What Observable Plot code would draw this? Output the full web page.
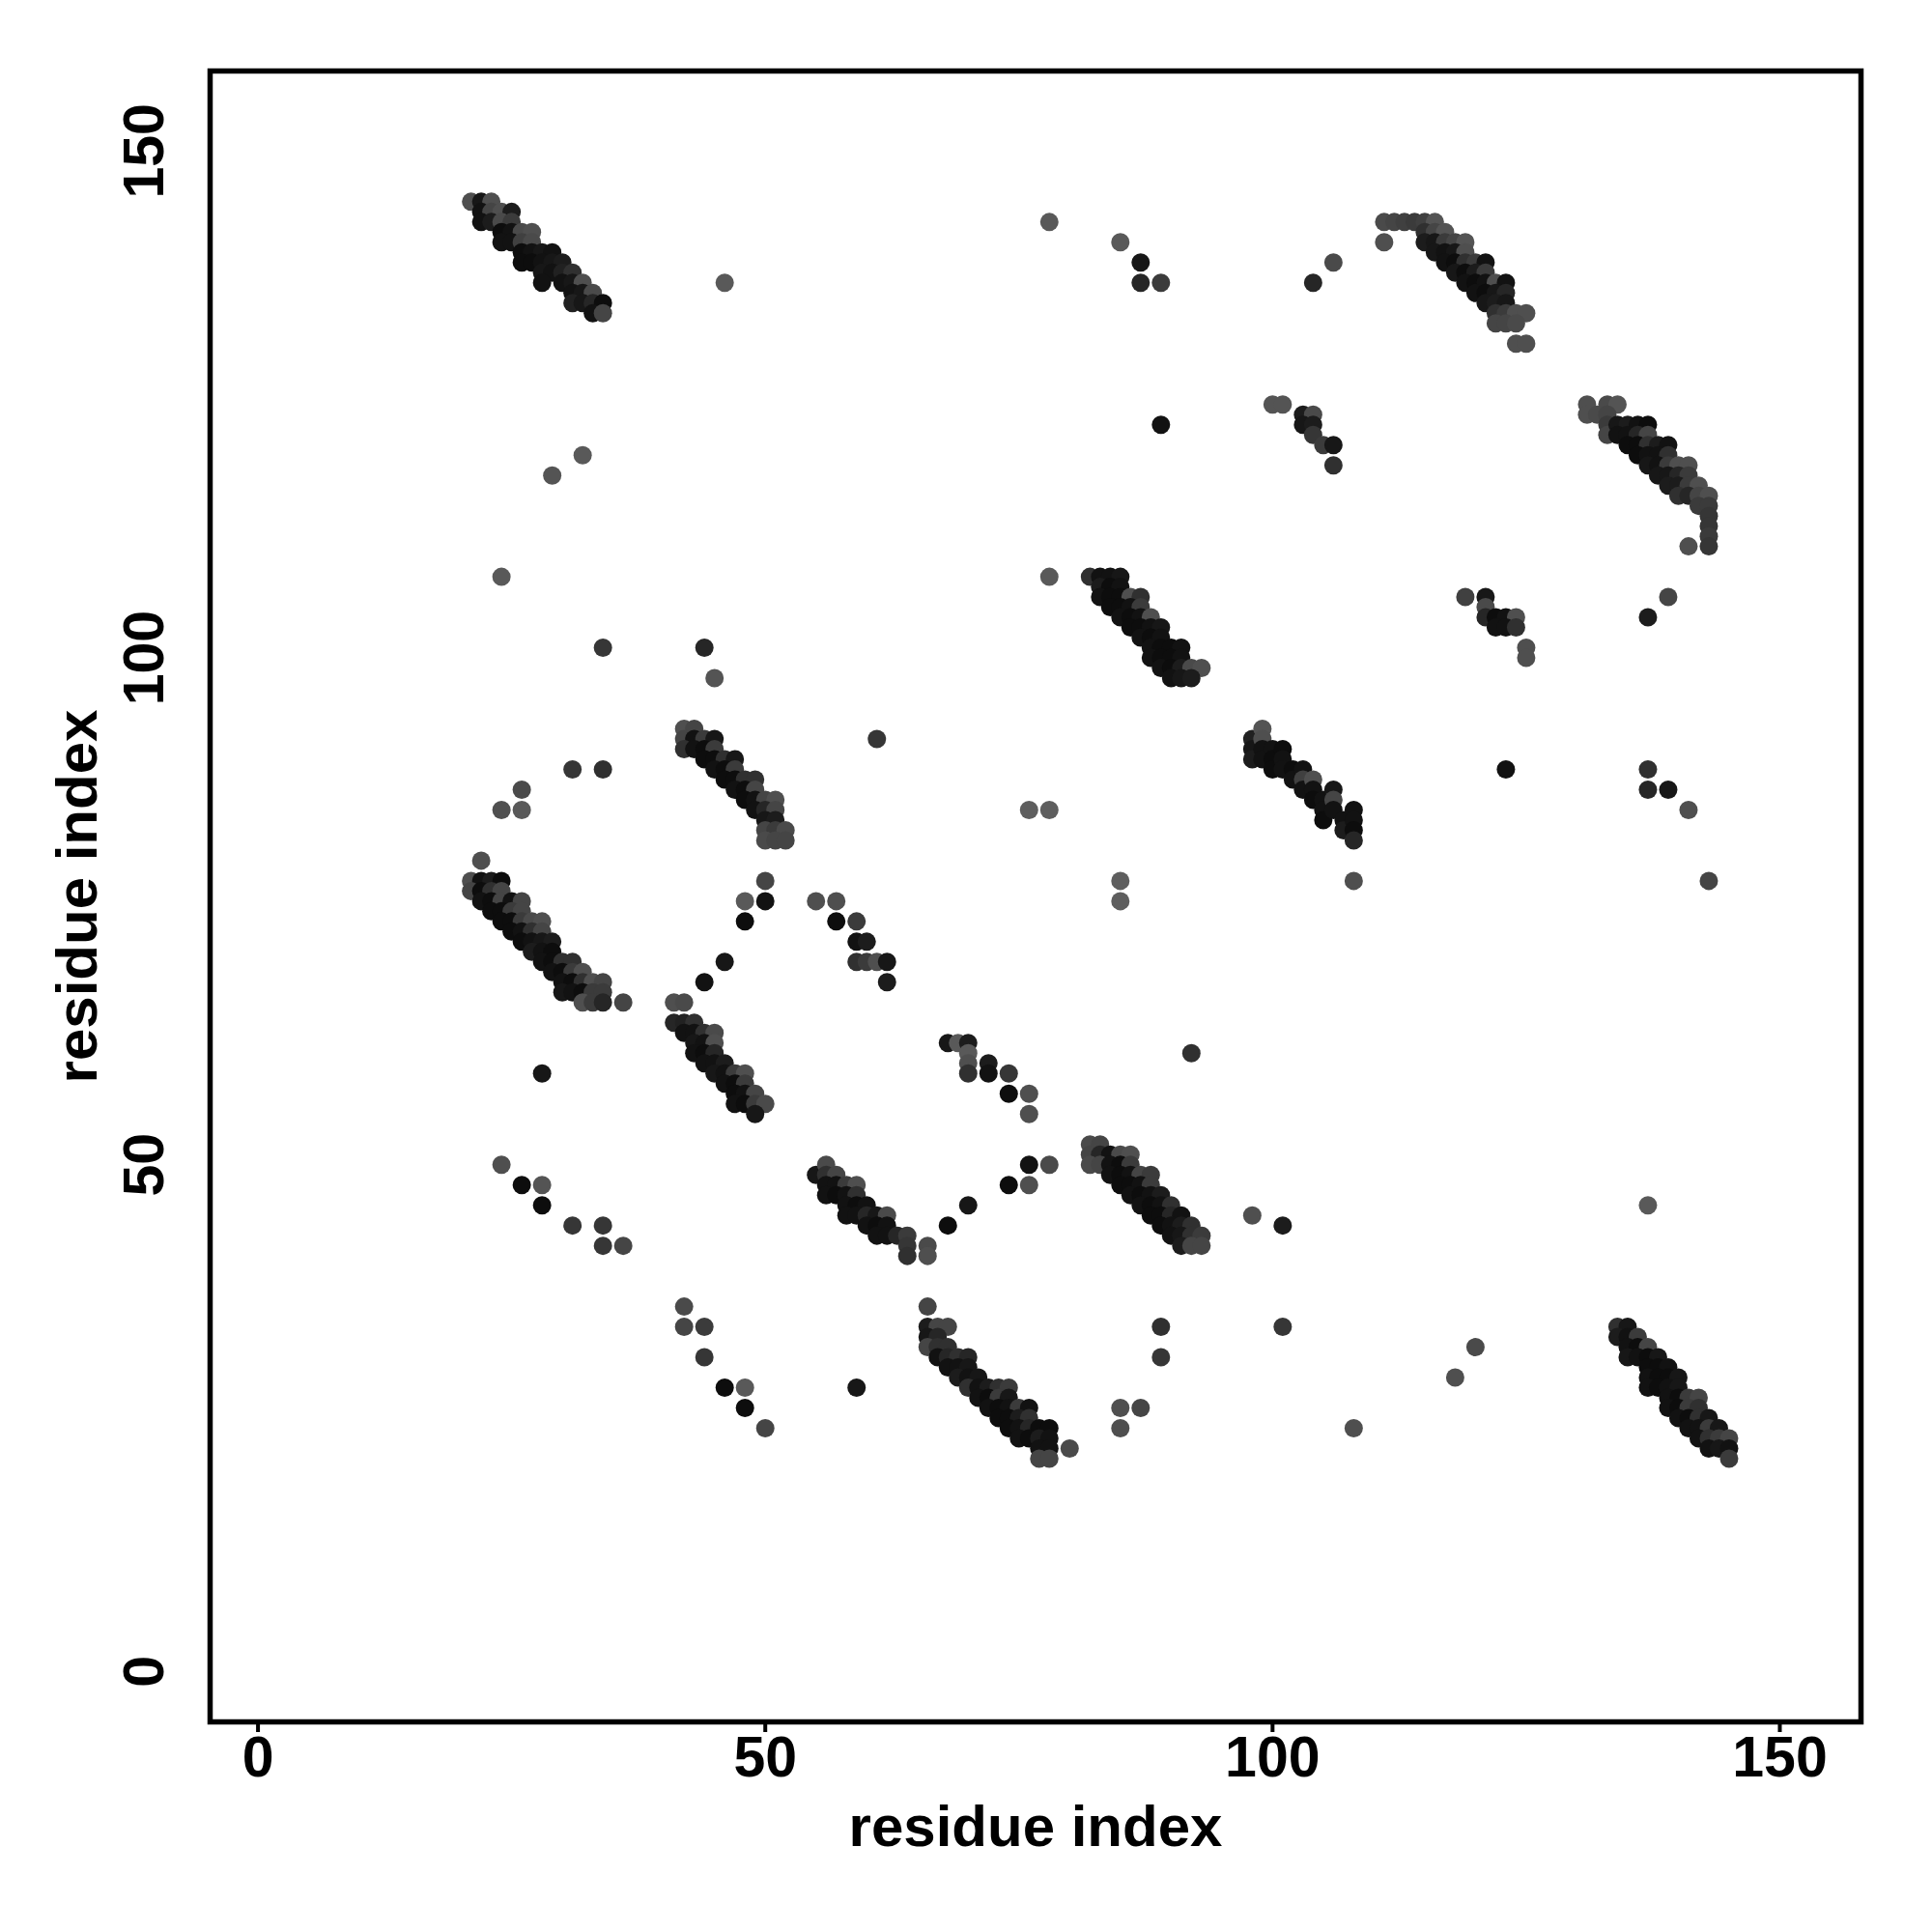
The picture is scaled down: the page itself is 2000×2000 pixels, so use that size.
<!DOCTYPE html>
<html><head><meta charset="utf-8">
<script src="https://cdn.jsdelivr.net/npm/d3@7"></script>
<script src="https://cdn.jsdelivr.net/npm/@observablehq/plot@0.6"></script>
<style>body{margin:0;background:#fff}</style>
</head><body><div id="chart"></div>
<script>
const xTicks = [0, 50, 100, 150];
const yTicks = [0, 50, 100, 150];
const axisTitle = "residue index";

// [residue i, residue j, contact strength]
const bandA = [[21,145,0.3],[22,145,0.85],[23,145,0.3],
[22,144,0.9],[23,144,0.4],[24,144,0.3],[25,144,0.8],
[22,143,0.9],[23,143,0.8],[24,143,0.35],[25,143,0.5],
[24,142,0.95],[25,142,0.9],[26,142,0.35],[27,142,0.3],
[24,141,0.9],[25,141,0.9],[26,141,0.45],[27,141,0.35],
[26,140,0.95],[27,140,0.9],[28,140,0.85],[29,140,0.9],
[26,139,0.95],[27,139,0.95],[28,139,0.9],[29,139,0.85],[30,139,0.8],
[28,138,0.85],[29,138,0.9],[30,138,0.75],[31,138,0.6],
[28,137,0.9],[30,137,0.9],[31,137,0.85],[32,137,0.3],
[31,136,0.9],[32,136,0.85],[33,136,0.35],
[31,135,0.75],[32,135,0.85],[33,135,0.7],[34,135,0.95],
[33,134,0.9],[34,134,0.4]];

const bandB = [[111,143,0.35],[112,143,0.4],[113,143,0.45],[114,143,0.5],[115,143,0.45],[116,143,0.25],
[111,141,0.3],
[115,142,0.6],[116,142,0.4],[117,142,0.25],
[115,141,0.8],[116,141,0.85],[117,141,0.5],[118,141,0.4],[119,141,0.25],
[116,140,0.85],[117,140,0.9],[118,140,0.85],[119,140,0.3],
[117,139,0.9],[118,139,0.95],[119,139,0.6],[120,139,0.5],[121,139,0.9],
[118,138,0.85],[119,138,0.95],[120,138,0.8],[121,138,0.5],
[119,137,0.9],[120,137,0.95],[121,137,0.9],[122,137,0.3],[123,137,0.9],
[120,136,0.9],[121,136,0.95],[122,136,0.85],[123,136,0.7],
[121,135,0.85],[122,135,0.8],[123,135,0.85],
[122,134,0.6],[123,134,0.5],[124,134,0.3],[125,134,0.3],
[122,133,0.4],[123,133,0.4],[124,133,0.35],
[124,131,0.3],[125,131,0.3]];

const bandD = [[131,125,0.3],[131,124,0.3],[133,125,0.35],[134,125,0.25],
[132,124,0.35],[133,124,0.4],[133,123,0.5],[133,122,0.4],
[134,123,0.85],[135,123,0.8],[136,123,0.9],[137,123,0.95],
[134,122,0.9],[135,122,0.9],[136,122,0.7],[137,122,0.4],
[135,121,0.95],[136,121,0.95],[137,121,0.6],[138,121,0.8],[139,121,0.9],
[136,120,0.95],[137,120,0.9],[138,120,0.9],[139,120,0.6],
[137,119,0.85],[138,119,0.9],[139,119,0.5],[140,119,0.3],[141,119,0.3],
[138,118,0.85],[139,118,0.85],[140,118,0.7],[141,118,0.5],
[139,117,0.8],[140,117,0.8],[141,117,0.5],[142,117,0.3],
[140,116,0.6],[141,116,0.7],[142,116,0.4],[143,116,0.3],
[142,115,0.5],[143,115,0.5],[143,114,0.55],[143,113,0.55],[143,112,0.5],[143,111,0.55],
[141,111,0.3]];

const bandE = [[82,108,0.6],[83,108,0.9],[84,108,0.9],[85,108,0.85],
[83,107,0.8],[84,107,0.95],[85,107,0.9],
[83,106,0.9],[84,106,0.95],[85,106,0.95],[86,106,0.3],[87,106,0.6],
[84,105,0.95],[85,105,0.95],[86,105,0.9],[87,105,0.5],
[85,104,0.9],[86,104,0.95],[87,104,0.9],[88,104,0.3],
[86,103,0.95],[87,103,0.95],[88,103,0.9],[89,103,0.85],
[87,102,0.9],[88,102,0.95],[89,102,0.9],
[88,101,0.9],[89,101,0.95],[90,101,0.95],[91,101,0.9],
[88,100,0.9],[89,100,0.95],[90,100,0.95],[91,100,0.9],
[89,99,0.9],[90,99,0.95],[91,99,0.8],[92,99,0.35],[93,99,0.3],
[90,98,0.9],[91,98,0.85],[92,98,0.8]];

const bandF = [[98,92,0.75],[98,91,0.85],[98,90,0.8],
[99,93,0.25],[99,92,0.3],[99,91,0.9],[99,90,0.9],
[100,91,0.9],[100,90,0.95],[100,89,0.95],
[101,91,0.95],[101,90,0.9],[101,89,0.9],
[102,89,0.95],[102,88,0.9],
[103,89,0.9],[103,88,0.45],[103,87,0.9],
[104,88,0.3],[104,87,0.9],[104,86,0.95],
[105,86,0.9],[105,85,0.9],[105,84,0.95],
[106,87,0.85],[106,86,0.4],[106,85,0.9],
[107,84,0.9],[107,83,0.8],
[108,85,0.9],[108,84,0.9],[108,83,0.95],[108,82,0.7]];

const bandG = [[42,93,0.3],[43,93,0.4],[42,92,0.4],[43,92,0.9],[42,91,0.6],[44,92,0.5],[45,92,0.85],
[43,91,0.9],[44,91,0.95],[45,91,0.5],[44,90,0.95],[45,90,0.95],[46,90,0.6],[47,90,0.85],
[45,89,0.9],[46,89,0.95],[47,89,0.5],[46,88,0.95],[47,88,0.95],[48,88,0.6],[49,88,0.6],
[47,87,0.9],[48,87,0.95],[49,87,0.4],[48,86,0.95],[49,86,0.9],[50,86,0.4],[51,86,0.3],
[49,85,0.9],[50,85,0.7],[51,85,0.4],[50,84,0.85],[51,84,0.8],
[50,83,0.4],[51,83,0.5],[52,83,0.35],[50,82,0.35],[51,82,0.4],[52,82,0.4]];

const bandC = [[21,78,0.3],[22,78,0.9],[23,78,0.8],[24,78,0.95],
[21,77,0.4],[22,77,0.95],[23,77,0.6],[24,77,0.4],
[22,76,0.9],[23,76,0.95],[24,76,0.4],[25,76,0.9],[26,76,0.4],
[23,75,0.95],[24,75,0.95],[25,75,0.5],[26,75,0.4],
[24,74,0.95],[25,74,0.95],[26,74,0.5],[27,74,0.35],[28,74,0.3],
[25,73,0.95],[26,73,0.9],[27,73,0.6],[28,73,0.4],
[26,72,0.95],[27,72,0.9],[28,72,0.85],[29,72,0.8],
[27,71,0.8],[28,71,0.9],[29,71,0.95],
[28,70,0.9],[29,70,0.95],[30,70,0.6],[31,70,0.6],
[29,69,0.9],[30,69,0.95],[31,69,0.5],[32,69,0.3],
[30,68,0.9],[31,68,0.95],[32,68,0.6],[33,68,0.3],[34,68,0.4],
[30,67,0.85],[31,67,0.9],[32,67,0.95],[33,67,0.5],[34,67,0.5],
[32,66,0.3],[33,66,0.5],[34,66,0.7],
[36,66,0.4]];

const bandH = [[41,66,0.3],[42,66,0.35],
[41,64,0.7],[42,64,0.75],[43,64,0.6],
[42,63,0.9],[43,63,0.9],[44,63,0.6],[45,63,0.35],
[43,62,0.85],[44,62,0.9],[45,62,0.3],
[43,61,0.9],[44,61,0.95],[45,61,0.7],
[44,60,0.9],[45,60,0.9],[46,60,0.8],
[45,59,0.85],[46,59,0.9],[47,59,0.5],[48,59,0.3],
[46,58,0.9],[47,58,0.95],[48,58,0.5],
[47,57,0.95],[48,57,0.9],[49,57,0.4],
[47,56,0.9],[48,56,0.95],[49,56,0.5],[50,56,0.35],
[49,55,0.85]];

const bandI = [[55,49,0.85],[56,50,0.35],[56,49,0.6],[57,49,0.4],[56,48,0.9],[57,48,0.9],[58,48,0.5],[59,48,0.3],
[56,47,0.9],[57,47,0.95],[58,47,0.9],[59,47,0.6],
[58,46,0.9],[59,46,0.95],[60,46,0.9],
[58,45,0.9],[59,45,0.9],[60,45,0.7],[61,45,0.85],[62,45,0.35],
[60,44,0.9],[61,44,0.95],[62,44,0.9],
[61,43,0.9],[62,43,0.9],[63,43,0.7],[64,43,0.5],
[64,42,0.55],[64,41,0.6],[66,42,0.35],[66,41,0.3]];

const bandJ = [[82,52,0.35],[83,52,0.4],[82,51,0.4],[83,51,0.7],[84,51,0.9],[85,51,0.35],[86,51,0.3],
[82,50,0.35],[83,50,0.4],[84,50,0.9],[85,50,0.95],[86,50,0.5],
[84,49,0.9],[85,49,0.95],[86,49,0.9],[87,49,0.4],[88,49,0.5],
[85,48,0.95],[86,48,0.95],[87,48,0.9],[88,48,0.5],
[86,47,0.9],[87,47,0.95],[88,47,0.9],[89,47,0.8],
[87,46,0.9],[88,46,0.95],[89,46,0.9],[90,46,0.6],
[88,45,0.95],[89,45,0.95],[90,45,0.7],[91,45,0.9],
[89,44,0.95],[90,44,0.9],[91,44,0.8],[92,44,0.6],
[90,43,0.9],[91,43,0.85],[92,43,0.6],[93,43,0.5],
[91,42,0.8],[92,42,0.4],[93,42,0.4]];

const bandK = [[66,36,0.4],[66,34,0.8],[67,34,0.4],[68,34,0.4],[66,33,0.85],[67,33,0.7],[66,32,0.4],[67,32,0.6],[68,32,0.6],
[67,31,0.9],[68,31,0.7],[69,31,0.6],[70,31,0.7],
[68,30,0.9],[69,30,0.9],[70,30,0.85],
[69,29,0.8],[70,29,0.9],[71,29,0.85],
[70,28,0.6],[71,28,0.9],[72,28,0.8],[73,28,0.6],[74,28,0.5],
[71,27,0.9],[72,27,0.95],[73,27,0.5],[74,27,0.85],
[72,26,0.9],[73,26,0.95],[74,26,0.9],[75,26,0.5],[76,26,0.9],
[73,25,0.95],[74,25,0.95],[75,25,0.8],[76,25,0.6],
[74,24,0.95],[75,24,0.9],[76,24,0.7],[77,24,0.95],[78,24,0.95],
[75,23,0.9],[76,23,0.95],[77,23,0.8],[78,23,0.9],
[77,22,0.9],[78,22,0.9],
[77,21,0.4],[78,21,0.4]];

const bandL = [[134,34,0.6],[135,34,0.85],[134,33,0.8],[135,33,0.9],[136,33,0.5],
[135,32,0.9],[136,32,0.95],[137,32,0.4],
[135,31,0.85],[136,31,0.9],[137,31,0.95],[138,31,0.85],
[137,30,0.95],[138,30,0.95],[139,30,0.9],
[137,29,0.9],[138,29,0.95],[139,29,0.95],[140,29,0.85],
[137,28,0.9],[138,28,0.95],[139,28,0.9],[140,28,0.85],
[139,27,0.9],[140,27,0.95],[141,27,0.5],[142,27,0.4],
[139,26,0.9],[140,26,0.95],[141,26,0.5],[142,26,0.6],
[140,25,0.9],[141,25,0.95],[142,25,0.6],[143,25,0.85],
[141,24,0.9],[142,24,0.9],[143,24,0.5],[144,24,0.85],
[142,23,0.9],[143,23,0.6],[144,23,0.5],[145,23,0.4],
[143,22,0.9],[144,22,0.85],[145,22,0.9],
[145,21,0.5]];

const clusterUpper = [[100,125,0.25],[101,125,0.25],[103,124,0.8],[104,124,0.35],[103,123,0.85],[104,123,0.8],[104,122,0.55],[105,121,0.5],[106,121,0.85],[106,119,0.6],
[119,106,0.45],[121,106,0.85],[121,105,0.35],[121,104,0.7],[122,104,0.95],[123,104,0.9],[124,104,0.3],[122,103,0.9],[123,103,0.9],[124,103,0.6],[125,101,0.3],[125,100,0.3]];

const clusterMiddle = [[50,78,0.4],[48,76,0.2],[50,76,0.9],[48,74,0.95],[46,70,0.85],[44,68,0.9],
[55,76,0.3],[57,76,0.3],[57,74,0.95],[59,74,0.5],[59,72,0.9],[60,72,0.8],[59,70,0.6],[60,70,0.5],[61,70,0.3],[62,70,0.85],[62,68,0.8],
[68,62,0.85],[69,62,0.2],[70,62,0.8],[70,61,0.2],[70,60,0.3],[70,59,0.6],[72,60,0.8],[72,59,0.9],[74,59,0.55],[74,57,0.95],[76,57,0.3],[76,55,0.3],
[74,48,0.95],[76,48,0.3],[76,50,0.9],[78,50,0.35],[68,44,0.95],[70,46,0.85]];

const scattered = [[46,137,0.2],[32,120,0.2],[29,118,0.25],[24,108,0.2],
[78,143,0.2],[85,141,0.2],[87,139,0.85],[87,137,0.7],[89,137,0.5],[104,137,0.7],[106,139,0.35],
[89,123,0.9],[78,108,0.2],[34,101,0.55],[44,101,0.7],[45,98,0.25],[61,92,0.55],
[31,89,0.55],[34,89,0.6],[24,85,0.3],[26,85,0.2],[26,87,0.35],[22,80,0.3],
[76,85,0.15],[78,85,0.15],[85,78,0.15],[85,76,0.15],
[108,78,0.3],[123,89,0.9],[137,89,0.6],[137,87,0.7],[139,87,0.85],[141,85,0.3],[143,78,0.4],
[139,106,0.4],[137,104,0.8],[92,61,0.6],[28,59,0.85],
[24,50,0.3],[26,48,0.95],[28,48,0.25],[28,46,0.95],[31,44,0.55],[34,44,0.55],[34,42,0.55],[36,42,0.4],
[98,45,0.3],[101,44,0.8],[137,46,0.2],
[42,36,0.35],[42,34,0.4],[44,34,0.5],[44,31,0.55],[46,28,0.95],[48,28,0.2],[48,26,0.95],[50,24,0.4],
[59,28,0.85],[89,34,0.6],[89,31,0.55],[101,34,0.55],[85,26,0.3],[87,26,0.4],[85,24,0.3],[80,22,0.35],
[108,24,0.3],[118,29,0.3],[120,32,0.35]];

const groups = [bandA, bandB, bandD, bandE, bandF, bandG, bandC, bandH, bandI, bandJ, bandK, bandL, clusterUpper, clusterMiddle, scattered];
const data = groups.flat().map(([x, y, p]) => ({x, y, p}));

const font = "'Liberation Sans', Arial, Helvetica, sans-serif";
const chart = Plot.plot({
  width: 2000,
  height: 2000,
  marginLeft: 217,
  marginRight: 74,
  marginTop: 73,
  marginBottom: 218,
  style: {fontFamily: font, fontWeight: "bold", background: "#fff", color: "#000"},
  x: {domain: [-4.72, 158.0]},
  y: {domain: [-4.97, 157.9]},
  color: {type: "linear", domain: [0.15, 1], range: ["#5e5e5e", "#080808"], clamp: true},
  marks: [
    Plot.dot(data, {x: "x", y: "y", r: 9.5, fill: "p", stroke: null}),
    Plot.frame({stroke: "#000", strokeWidth: 5.5}),
    Plot.axisX({ticks: xTicks, tickSize: 11, tickPadding: 4, fontSize: 59, fontWeight: "bold", strokeWidth: 4, label: null}),
    Plot.axisY({ticks: yTicks, tickSize: 11, tickPadding: 56, fontSize: 59, fontWeight: "bold", rotate: -90, textAnchor: "middle", strokeWidth: 4, label: null}),
    Plot.text([axisTitle], {text: d => d, frameAnchor: "bottom", dy: 109, textAnchor: "middle", lineAnchor: "middle", fontSize: 60, fontWeight: "bold"}),
    Plot.text([axisTitle], {text: d => d, frameAnchor: "left", dx: -137, rotate: -90, textAnchor: "middle", lineAnchor: "middle", fontSize: 60, fontWeight: "bold"})
  ]
});
document.getElementById("chart").appendChild(chart);
</script>
</body></html>
